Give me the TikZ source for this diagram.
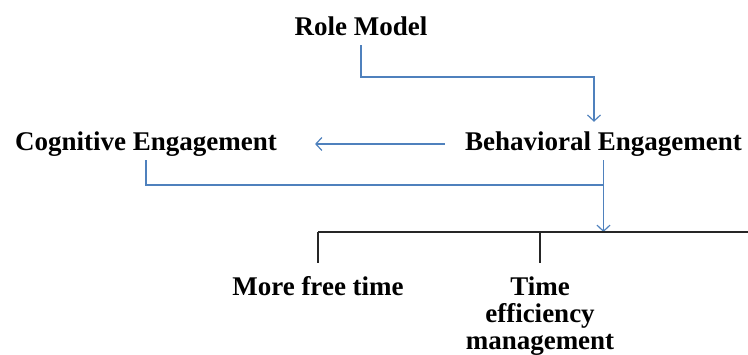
\documentclass[tikz,border=0pt]{standalone}
\usepackage{fontspec}
\setmainfont{Liberation Serif}
\usetikzlibrary{arrows.meta}
\definecolor{lineblue}{RGB}{79,129,189}
\begin{document}
\begin{tikzpicture}[x=1pt,y=-1pt,
  lbl/.style={inner sep=0pt,anchor=base,font=\fontsize{27}{27}\selectfont\bfseries,text height=18pt,text depth=6pt},
  bl/.style={draw=lineblue,line width=1.2pt},
  btip/.style={-{Straight Barb[length=6pt,width=13pt]}},
  bk/.style={draw=black!85,line width=1.3pt}]
\useasboundingbox (0,0) rectangle (748,354);
\node[lbl] (rm) at (361,35) {Role Model};
\node[lbl] (ce) at (146,150) {Cognitive Engagement};
\node[lbl] (be) at (603.5,150) {Behavioral Engagement};
\node[lbl] (mft) at (318,295) {More free time};
\node[inner sep=0pt,anchor=north,align=center,font=\fontsize{27}{27}\selectfont\bfseries] (tem) at (540,277) {Time\\efficiency\\management};
\coordinate (j1) at (594,77);
\coordinate (j2) at (604,185);
\coordinate (b1) at (318,232);
\coordinate (b2) at (760,232);
% connectors
\draw[bl,btip,shorten <=4pt,shorten >=10pt] (rm.south) |- (j1) -- (j1 |- be.north);
\draw[bl,btip,shorten <=20pt,shorten >=38pt] (be.west) -- (ce.east);
\draw[bl,shorten <=4pt] (ce.south) |- (j2);
\draw[bl,btip,shorten <=4pt] (be.south) -- (be.south |- b1);
% bracket
\draw[bk] (b1) -- (b2);
\draw[bk,shorten >=14pt] (b1) -- (mft.north);
\draw[bk,shorten >=14pt] (tem.north |- b1) -- (tem.north);
\end{tikzpicture}
\end{document}
